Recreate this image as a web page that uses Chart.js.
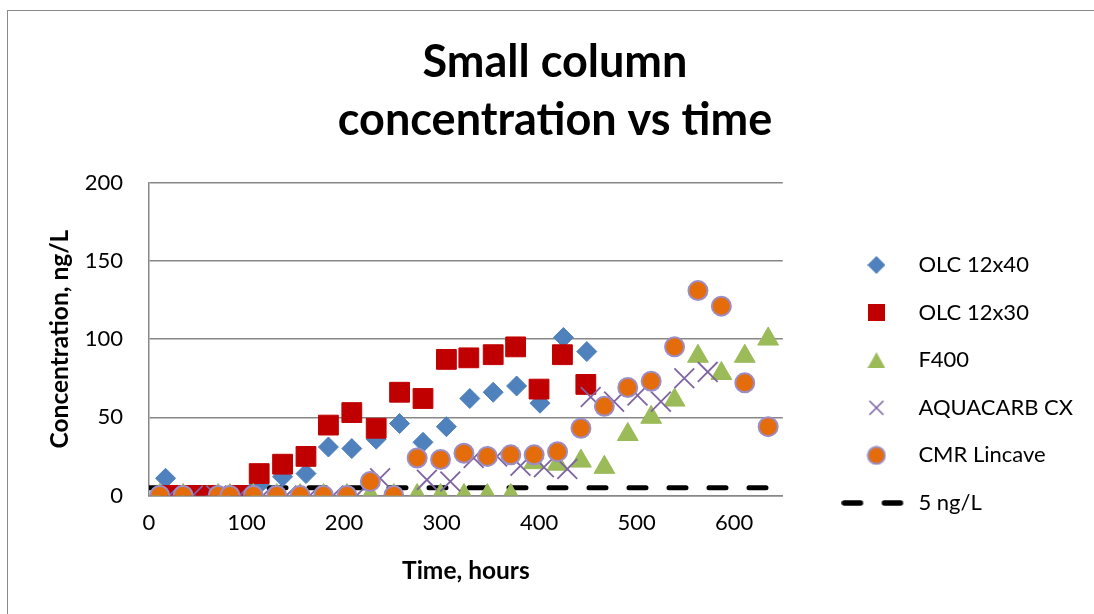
<!DOCTYPE html>
<html>
<head>
<meta charset="utf-8">
<script src="https://cdn.jsdelivr.net/npm/chart.js"></script>
<style>
  html, body { margin: 0; padding: 0; background: #fff; overflow: hidden; }
  #frame { position: absolute; left: 7px; top: 10px; width: 1200px; height: 700px;
           border-left: 1.5px solid #8a8a8a; border-top: 1.5px solid #8a8a8a; }
  #wrap { position: absolute; left: 0; top: 0; width: 1094px; height: 614px; }
</style>
</head>
<body>
<div id="frame"></div>
<div id="wrap"><canvas id="chart"></canvas></div>
<script>
// hours / ng/L
const olc40Time = [17, 41, 65, 89, 113, 137, 161, 184, 208, 233, 257, 281, 305, 329, 353, 377, 401, 425, 449]
const olc40Conc = [11, 0, 0, 0, 7, 12, 14, 31, 30, 36, 46, 34, 44, 62, 66, 70, 59, 101, 92]

const olc30Time = [22, 47, 59, 94, 113, 137, 161, 184, 208, 233, 257, 281, 305, 328, 353, 376, 400, 424, 448]
const olc30Conc = [0, 0, 0, 0, 14, 20, 25, 45, 53, 43, 66, 62, 87, 88, 90, 95, 68, 90, 71]

const f400Time = [11, 35, 71, 83, 107, 131, 155, 179, 203, 227, 251, 275, 299, 323, 347, 371, 395, 419, 443, 467, 491, 515, 539, 563, 587, 611, 635]
const f400Conc = [0, 0, 0, 0, 0, 0, 0, 0, 0, 0, 0, 0, 0, 0, 0, 0, 21, 20, 22, 18, 39, 50, 61, 89, 78, 89, 100]

const aquaTime = [21, 45, 69, 93, 117, 141, 165, 189, 213, 237, 285, 309, 333, 357, 381, 405, 429, 453, 477, 501, 525, 549, 573]
const aquaConc = [0, 0, 0, 0, 0, 0, 0, 0, 0, 11, 10, 9, 24, 25, 19, 18, 17, 63, 60, 64, 60, 75, 79]

const cmrTime = [11, 35, 71, 83, 107, 131, 155, 179, 203, 227, 251, 275, 299, 323, 347, 371, 395, 419, 443, 467, 491, 515, 539, 563, 587, 611, 635]
const cmrConc = [0, 0, 0, 0, 0, 0, 0, 0, 0, 9, 0, 24, 23, 27, 25, 26, 26, 28, 43, 57, 69, 73, 95, 131, 121, 72, 44]

const limitTime = [0, 650]
const limitConc = [5, 5]

const xTicks = [0, 100, 200, 300, 400, 500, 600]

const BLUE = '#4F81BD', RED = '#C00000', GREEN = '#9BBB59', PURPLE = '#7F64A2', ORANGE = '#E46C0A', RING = '#9C8EC4'

const pts = (xs, ys) => xs.map((x, i) => ({x: x, y: ys[i]}))

// little canvases used as legend swatches
const icon = (w, h, draw) => {
  let c = document.createElement('canvas')
  c.width = w
  c.height = h
  draw(c.getContext('2d'))
  return c
}
const icons = [
  icon(18, 18, ctx => {
    ctx.fillStyle = BLUE
    ctx.beginPath(); ctx.moveTo(9, 0); ctx.lineTo(18, 9); ctx.lineTo(9, 18); ctx.lineTo(0, 9); ctx.fill()
  }),
  icon(17, 17, ctx => { ctx.fillStyle = RED; ctx.fillRect(0, 0, 17, 17) }),
  icon(18, 16, ctx => {
    ctx.fillStyle = GREEN
    ctx.beginPath(); ctx.moveTo(9, 0); ctx.lineTo(18, 16); ctx.lineTo(0, 16); ctx.fill()
  }),
  icon(18, 18, ctx => {
    ctx.strokeStyle = PURPLE; ctx.lineWidth = 1.6
    ctx.beginPath(); ctx.moveTo(2, 2); ctx.lineTo(16, 16); ctx.moveTo(16, 2); ctx.lineTo(2, 16); ctx.stroke()
  }),
  icon(20, 20, ctx => {
    ctx.fillStyle = ORANGE; ctx.strokeStyle = RING; ctx.lineWidth = 2
    ctx.beginPath(); ctx.arc(10, 10, 8.5, 0, Math.PI * 2); ctx.fill(); ctx.stroke()
  }),
  icon(70, 8, ctx => {
    ctx.strokeStyle = '#000'; ctx.lineWidth = 5.5; ctx.lineCap = 'round'
    ctx.beginPath(); ctx.moveTo(3, 4); ctx.lineTo(19, 4); ctx.moveTo(43, 4); ctx.lineTo(59, 4); ctx.stroke()
  })
]

// push the legend away from the plot (Excel leaves a wide gap)
const EXTRA = 39, DY = 77
const legendGap = {
  id: 'legendGap',
  beforeInit(chart) {
    const fit = chart.legend.fit
    chart.legend.fit = function () {
      fit.bind(chart.legend)()
      this.width += EXTRA
    }
  },
  afterLayout(chart) {
    const lg = chart.legend
    lg.left += EXTRA - 2; lg.right += EXTRA - 2
    lg.top += DY; lg.bottom += DY
  }
}

Chart.defaults.font.family = 'Lato'
Chart.defaults.color = '#000'

new Chart(document.getElementById('chart'), {
  type: 'scatter',
  data: {
    datasets: [
      {label: 'OLC 12x40', data: pts(olc40Time, olc40Conc), pointStyle: 'rectRot', pointRadius: 10,
        backgroundColor: BLUE, borderColor: BLUE, borderWidth: 1, order: 4},
      {label: 'OLC 12x30', data: pts(olc30Time, olc30Conc), pointStyle: 'rect', pointRadius: 14,
        backgroundColor: RED, borderColor: RED, borderWidth: 1, order: 3},
      {label: 'F400', data: pts(f400Time, f400Conc), pointStyle: 'triangle', pointRadius: 12,
        backgroundColor: GREEN, borderColor: GREEN, borderWidth: 1, order: 2},
      {label: 'AQUACARB CX', data: pts(aquaTime, aquaConc), pointStyle: 'crossRot', pointRadius: 14,
        backgroundColor: PURPLE, borderColor: PURPLE, borderWidth: 1.8, order: 1},
      {label: 'CMR Lincave', data: pts(cmrTime, cmrConc), pointStyle: 'circle', pointRadius: 9.5,
        backgroundColor: ORANGE, borderColor: RING, borderWidth: 2, order: 0},
      {label: '5 ng/L', data: pts(limitTime, limitConc), showLine: true, pointRadius: 0,
        borderColor: '#000', borderWidth: 5, borderDash: [17, 23], borderCapStyle: 'round', order: 5}
    ]
  },
  options: {
    animation: false,
    responsive: true,
    maintainAspectRatio: false,
    layout: {padding: {left: 25, right: 9, top: 0, bottom: 0}},
    plugins: {
      title: {
        display: true,
        text: ['Small column', 'concentration vs time'],
        font: {size: 45, weight: 'bold', lineHeight: 1.29},
        padding: {top: 33, bottom: 33.5},
        color: '#000'
      },
      legend: {
        position: 'right',
        labels: {
          usePointStyle: true,
          pointStyleWidth: 62,
          padding: 25.6,
          font: {size: 22},
          color: '#000',
          sort: (a, b) => a.datasetIndex - b.datasetIndex,
          generateLabels: (chart) => Chart.defaults.plugins.legend.labels.generateLabels(chart)
            .map(l => Object.assign(l, {pointStyle: icons[l.datasetIndex]}))
        }
      },
      tooltip: {enabled: false}
    },
    scales: {
      x: {
        type: 'linear',
        min: 0,
        max: 650,
        afterBuildTicks: (scale) => { scale.ticks = xTicks.map(v => ({value: v})) },
        grid: {display: false},
        border: {display: true, color: '#878787', width: 1.5},
        ticks: {font: {size: 22}, padding: 5.8},
        title: {display: true, text: 'Time, hours', font: {size: 24.5, weight: 'bold'},
          padding: {top: 14.8, bottom: 28.3}}
      },
      y: {
        min: 0,
        max: 200,
        ticks: {stepSize: 50, font: {size: 22}, padding: 26},
        afterFit: (scale) => { scale.width = 124 },
        grid: {color: '#878787', lineWidth: 1.5, drawTicks: false},
        border: {display: true, color: '#878787', width: 1.5},
        title: {display: true, text: 'Concentration, ng/L', font: {size: 24.5, weight: 'bold'},
          padding: {top: 20.3, bottom: 0}}
      }
    }
  },
  plugins: [legendGap]
})
</script>
</body>
</html>
